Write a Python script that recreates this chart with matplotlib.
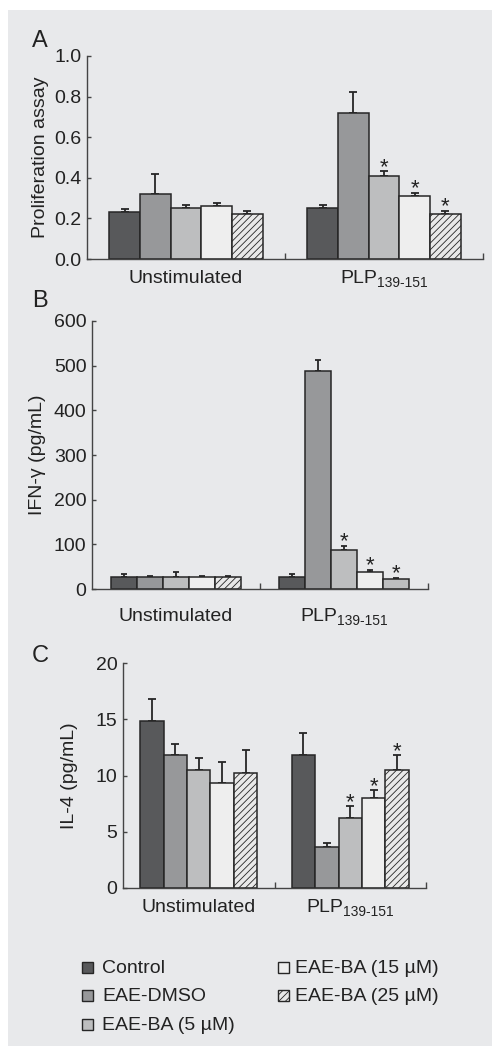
import matplotlib
matplotlib.use("Agg")
import matplotlib.pyplot as plt
from matplotlib.patches import Rectangle
from matplotlib.transforms import blended_transform_factory
import numpy as np

plt.rcParams['font.family'] = ['Liberation Sans', 'DejaVu Sans']
plt.rcParams['hatch.linewidth'] = 0.6

# ---------------- data ----------------
categories = ['Unstimulated', 'PLP']
cat_sub = ['', '139-151']
series = ['Control', 'EAE-DMSO', 'EAE-BA (5 µM)', 'EAE-BA (15 µM)', 'EAE-BA (25 µM)']

prolif_unstim = [0.23, 0.32, 0.25, 0.26, 0.22]
prolif_unstim_err = [0.016, 0.10, 0.015, 0.015, 0.017]
prolif_plp = [0.25, 0.72, 0.41, 0.31, 0.22]
prolif_plp_err = [0.017, 0.105, 0.022, 0.016, 0.017]

ifn_unstim = [27, 27, 27, 27, 27]
ifn_unstim_err = [7, 3, 10, 3, 1]
ifn_plp = [27, 488, 87, 39, 22]
ifn_plp_err = [7, 25, 9, 4, 2]

il4_unstim = [14.85, 11.78, 10.53, 9.35, 10.2]
il4_unstim_err = [1.93, 1.0, 1.04, 1.89, 2.05]
il4_plp = [11.78, 3.67, 6.21, 7.96, 10.53]
il4_plp_err = [2.02, 0.35, 1.04, 0.71, 1.25]

signif_plp = [False, False, True, True, True]

# ---------------- styles ----------------
W, H = 492, 1046
colors = ['#58595b', '#97989a', '#bdbebf', '#eeeeee', '#e9e9e9']
hatches = [None, None, None, None, '/////']
edge = '#262626'
txt = '#222222'
bg = '#e8e9eb'
FS = 14

fig = plt.figure(figsize=(W / 100, H / 100), dpi=100)
fig.patch.set_facecolor('white')
fig.patches.append(Rectangle((8 / W, 0), 1, 1 - 10 / H, transform=fig.transFigure,
                             facecolor=bg, edgecolor='none', zorder=-10))


def px_axes(l, r, t, b):
    return [l / W, 1 - b / H, (r - l) / W, (b - t) / H]


def draw_panel(rect, groups, errs, ylim, yticks, yfmt, ylabel, ylabel_x, letter,
               letter_xy, label_base, capsize, star_off, b_override=False):
    ax = fig.add_axes(px_axes(*rect))
    ax.set_facecolor('none')
    bw = 0.155
    offs = (np.arange(5) - 2) * bw
    for gi, (vals, ers) in enumerate(zip(groups, errs)):
        xc = 0.5 + gi
        for i in range(5):
            c, h = colors[i], hatches[i]
            if b_override and gi == 1 and i == 4:
                c, h = colors[2], None
            ax.bar(xc + offs[i], vals[i], width=bw, color=c, edgecolor=edge,
                   linewidth=1.1, hatch=h, zorder=2)
            ax.errorbar(xc + offs[i], vals[i], yerr=[[0], [ers[i]]], fmt='none',
                        ecolor=edge, elinewidth=1.3, capsize=capsize, capthick=1.3,
                        zorder=1)
            if gi == 1 and signif_plp[i]:
                ax.annotate('*', (xc + offs[i], vals[i] + ers[i]),
                            xytext=(0, star_off), textcoords='offset points',
                            ha='center', va='baseline', fontsize=16, color=txt)
    ax.set_xlim(0, 2)
    ax.set_ylim(*ylim)
    ax.set_yticks(yticks)
    ax.set_yticklabels([yfmt.format(v) for v in yticks])
    ax.set_xticks([1, 2])
    ax.set_xticklabels([])
    for s in ['top', 'right']:
        ax.spines[s].set_visible(False)
    for s in ['left', 'bottom']:
        ax.spines[s].set_color('#444444')
        ax.spines[s].set_linewidth(1.0)
    ax.tick_params(axis='y', direction='in', length=3, width=1.0, color='#444444',
                   labelsize=FS, labelcolor=txt, pad=4)
    ax.tick_params(axis='x', direction='in', length=4, width=1.0, color='#444444')
    l, r, t, b = rect
    fig.text(ylabel_x / W, 1 - (t + b) / 2 / H, ylabel, rotation=90, ha='center',
             va='center', fontsize=FS, color=txt)
    fig.text(letter_xy[0] / W, 1 - letter_xy[1] / H, letter, fontsize=17,
             color=txt, ha='left', va='baseline')
    # group labels
    tr = blended_transform_factory(ax.transData, fig.transFigure)
    fig.canvas.draw()
    rend = fig.canvas.get_renderer()
    yb = 1 - label_base / H
    ax.text(0.5, yb, categories[0], transform=tr, ha='center', va='baseline',
            fontsize=FS, color=txt)
    t1 = ax.text(1.5, yb, categories[1], transform=tr, ha='left', va='baseline',
                 fontsize=FS, color=txt)
    t2 = ax.text(1.5, yb, cat_sub[1], transform=tr, ha='left', va='baseline',
                 fontsize=10, color=txt)
    w1 = t1.get_window_extent(rend).width
    w2 = t2.get_window_extent(rend).width
    xc_disp = ax.transData.transform((1.5, 0))[0]
    x0 = xc_disp - (w1 + w2) / 2
    t1.set_x(ax.transData.inverted().transform((x0, 0))[0])
    t2.set_x(ax.transData.inverted().transform((x0 + w1, 0))[0])
    t2.set_y(yb - 4 / H)
    return ax


draw_panel((87, 483, 56, 259), [prolif_unstim, prolif_plp],
           [prolif_unstim_err, prolif_plp_err], (0, 1.0),
           [0, 0.2, 0.4, 0.6, 0.8, 1.0], '{:.1f}', 'Proliferation assay', 41,
           'A', (32, 47), 283, 3, -1)

draw_panel((92, 428, 321, 589), [ifn_unstim, ifn_plp],
           [ifn_unstim_err, ifn_plp_err], (0, 600),
           [0, 100, 200, 300, 400, 500, 600], '{:d}', 'IFN-γ (pg/mL)', 38,
           'B', (32, 307), 621, 2.5, -1, b_override=True)

draw_panel((123, 426, 663, 888), [il4_unstim, il4_plp],
           [il4_unstim_err, il4_plp_err], (0, 20),
           [0, 5, 10, 15, 20], '{:d}', 'IL-4 (pg/mL)', 69,
           'C', (32, 662), 912, 3, -1)

# legend (manual)
leg_pos = [(82, 102, 973), (82, 102, 1001), (82, 102, 1030),
           (278, 295, 973), (278, 295, 1001)]
for i, (sx, tx, yb) in enumerate(leg_pos):
    fig.patches.append(Rectangle((sx / W, 1 - yb / H), 11 / W, 11 / H,
                                 transform=fig.transFigure, facecolor=colors[i],
                                 edgecolor=edge, linewidth=1.0, hatch=hatches[i]))
    fig.text(tx / W, 1 - yb / H, series[i], fontsize=FS, color=txt,
             ha='left', va='baseline')

fig.savefig('out.png', dpi=100, facecolor=fig.get_facecolor())
